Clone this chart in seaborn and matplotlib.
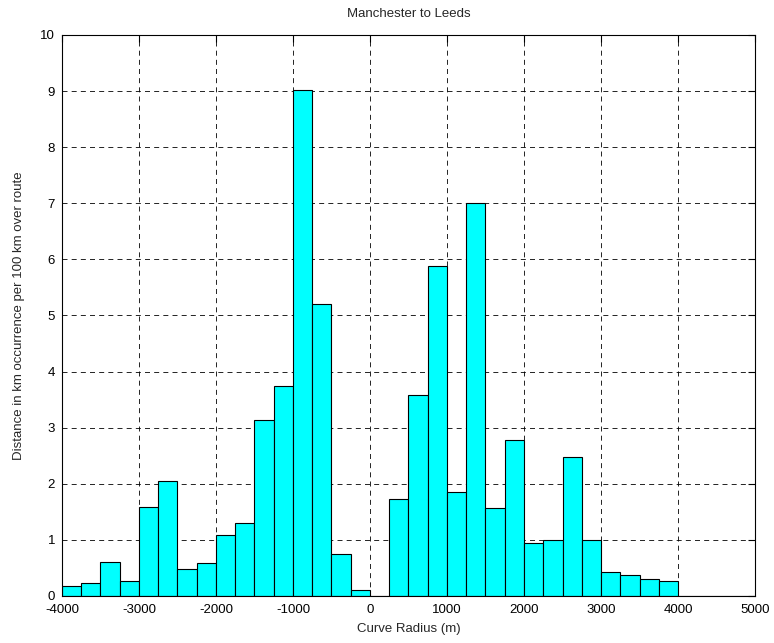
import numpy as np
import pandas as pd
import matplotlib
matplotlib.use("Agg")
import matplotlib.pyplot as plt
import seaborn as sns

# Histogram data (bin width 250 m)
bin_edges = list(range(-4000, 5001, 250))
bin_values = [
    0.18, 0.24, 0.61, 0.27, 1.59, 2.05, 0.49, 0.59, 1.08, 1.31,
    3.14, 3.74, 9.02, 5.21, 0.75, 0.10,
    0.0, 1.73, 3.58, 5.89, 1.85, 7.01, 1.56, 2.78, 0.95, 0.99,
    2.48, 1.00, 0.43, 0.38, 0.30, 0.27,
    0.0, 0.0, 0.0, 0.0,
]
x_ticks = list(range(-4000, 5001, 1000))
y_ticks = list(range(0, 11))
title = "Manchester to Leeds"
x_label = "Curve Radius (m)"
y_label = "Distance in km occurrence per 100 km over route"

centers = [(a + b) / 2 for a, b in zip(bin_edges[:-1], bin_edges[1:])]
df = pd.DataFrame({"radius": centers, "dist": bin_values})

sns.set_style("white")
plt.rcParams["font.family"] = ["Liberation Sans", "DejaVu Sans"]
plt.rcParams["axes.unicode_minus"] = False

fig = plt.figure(figsize=(7.74, 6.43), dpi=100)
ax = fig.add_axes([0.080, 0.0731, 0.8955, 0.8725])

sns.histplot(data=df, x="radius", weights="dist", bins=bin_edges, ax=ax,
             color="#00FFFF", alpha=1.0, edgecolor="black", linewidth=0.8)

ax.set_xlim(-4000, 5000)
ax.set_ylim(0, 10)
ax.set_xticks(x_ticks)
ax.set_yticks(y_ticks)
ax.set_axisbelow(True)
ax.grid(True, color="black", linestyle=(0, (6, 5)), linewidth=0.6)
ax.tick_params(direction="in", top=True, right=True, length=5, width=0.8,
               labelsize=9.5, colors="black")
ax.tick_params(axis="x", pad=6)
ax.tick_params(axis="y", pad=5)
for s in ax.spines.values():
    s.set_visible(True)
    s.set_color("black")
    s.set_linewidth(0.8)

ax.set_title(title, fontsize=9.5, pad=13)
ax.set_xlabel(x_label, fontsize=9.5, labelpad=5)
ax.set_ylabel(y_label, fontsize=9.5, labelpad=11)

fig.savefig("out.png", dpi=100)
